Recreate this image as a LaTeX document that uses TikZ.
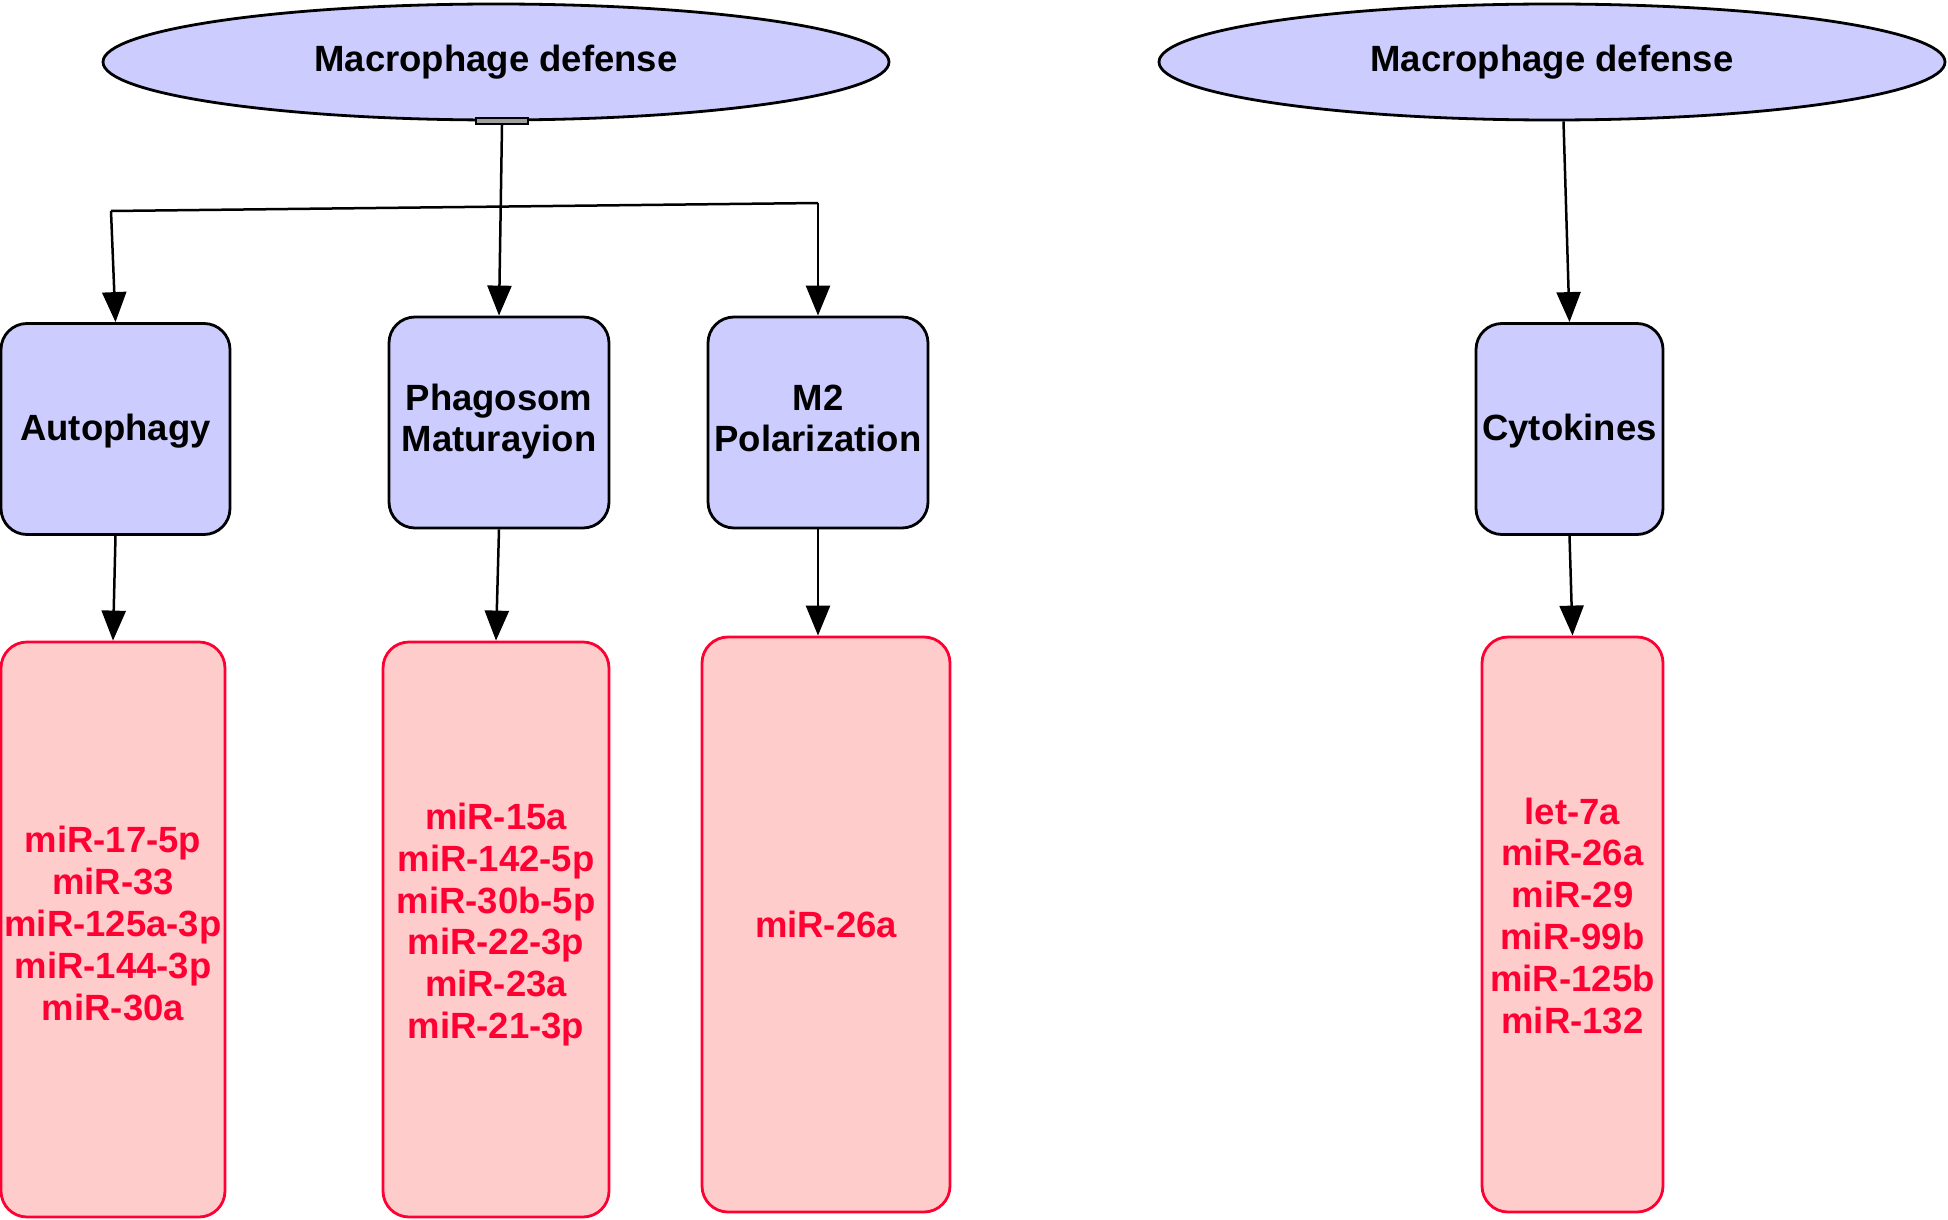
\documentclass[tikz,border=0pt]{standalone}
\usepackage{fontspec}
\setmainfont{Liberation Sans}
\usetikzlibrary{shapes.geometric,arrows.meta}
\definecolor{bluefill}{RGB}{204,204,255}
\definecolor{redfill}{RGB}{255,204,204}
\definecolor{redline}{RGB}{255,0,51}
\tikzset{
  lbl/.style={font=\bfseries\fontsize{36.5}{41.8}\selectfont, align=center},
  oval/.style={lbl, ellipse, draw=black, fill=bluefill, line width=2.8pt, inner sep=0pt, minimum width=786pt, minimum height=116pt},
  procbox/.style={rectangle, rounded corners=26pt, draw=black, fill=bluefill, line width=2.8pt, inner sep=0pt},
  proctext/.style={lbl, inner sep=0pt},
  mirbox/.style={rectangle, rounded corners=26pt, draw=redline, fill=redfill, line width=2.8pt, inner sep=0pt},
  mirtext/.style={lbl, text=redline, inner sep=0pt},
  conn/.style={draw=black, line width=2.5pt, -{Triangle[length=30pt,width=24pt]}},
  plain/.style={draw=black, line width=2.5pt},
}
\begin{document}
\begin{tikzpicture}[x=1pt,y=-1pt]
\useasboundingbox (0,0) rectangle (1948,1220);
% ellipses
\node[oval] (ell1) at (496,62) {Macrophage defense};
\node[oval] (ell2) at (1552,62) {Macrophage defense};
% process boxes
\node[procbox, minimum width=229pt, minimum height=211pt] (auto) at (115.5,429) {};
\node[procbox, minimum width=220pt, minimum height=211pt] (phag) at (499,422.5) {};
\node[procbox, minimum width=220pt, minimum height=211pt] (m2) at (818,422.5) {};
\node[procbox, minimum width=187pt, minimum height=211pt] (cyto) at (1569.5,429) {};
\node[proctext] (autot) at ([yshift=-2pt]auto.center) {Autophagy};
\node[proctext] (phagt) at ([yshift=1pt]phag.center) {Phagosom\\Maturayion};
\node[proctext] (m2t) at ([yshift=4pt]m2.center) {M2\\Polarization};
\node[proctext] (cytot) at ([yshift=-2pt]cyto.center) {Cytokines};
% miRNA boxes
\node[mirbox, minimum width=224pt, minimum height=575pt] (autolist) at (113,929.5) {};
\node[mirbox, minimum width=226pt, minimum height=575pt] (phaglist) at (496,929.5) {};
\node[mirbox, minimum width=248pt, minimum height=575pt] (m2list) at (826,924.5) {};
\node[mirbox, minimum width=181pt, minimum height=575pt] (cytolist) at (1572.5,924.5) {};
\node[mirtext] (autotext) at ([yshift=6pt]autolist.center) {miR-17-5p\\miR-33\\miR-125a-3p\\miR-144-3p\\miR-30a};
\node[mirtext] (phagtext) at ([yshift=5pt]phaglist.center) {miR-15a\\miR-142-5p\\miR-30b-5p\\miR-22-3p\\miR-23a\\miR-21-3p};
\node[mirtext] (m2text) at (m2list.center) {miR-26a};
\node[mirtext] (cytotext) at ([yshift=9pt]cytolist.center) {let-7a\\miR-26a\\miR-29\\miR-99b\\miR-125b\\miR-132};
% tee under left ellipse
\node[draw=black, fill=gray!75, line width=2.2pt, minimum width=52pt, minimum height=6pt, inner sep=0pt, anchor=north] (tee) at (502,117) {};
% branch bar
\coordinate (barL) at (111,211);
\coordinate (barR) at (818,203);
\draw[plain] (barL) -- (barR);
\draw[conn] (tee.south) -- (phag.north);
\draw[conn] (barL) -- (auto.north);
\draw[conn] (barR) -- (m2.north);
% right side
\draw[conn] ([xshift=-6pt]cyto.north |- ell2.south) -- (cyto.north);
% lower arrows
\draw[conn] (auto.south) -- (autolist.north);
\draw[conn] (phag.south) -- (phaglist.north);
\draw[conn] (m2.south) -- (m2.south |- m2list.north);
\draw[conn] (cyto.south) -- (cytolist.north);
\end{tikzpicture}
\end{document}
